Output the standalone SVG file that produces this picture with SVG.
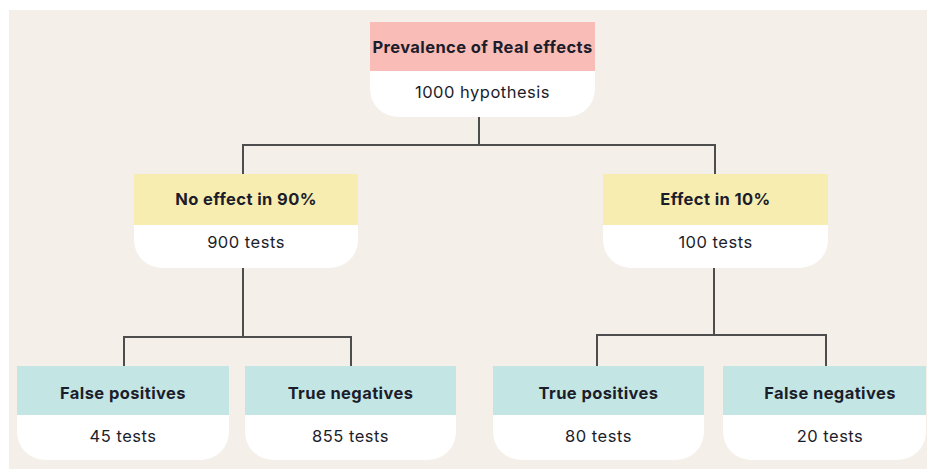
<svg xmlns="http://www.w3.org/2000/svg" width="927" height="469" viewBox="0 0 927 469">
<style>
.t{font-family:Inter,"Liberation Sans",sans-serif;font-size:16.5px;font-weight:700;letter-spacing:0.4px;fill:#1c1d2b;text-anchor:middle;dominant-baseline:central}
.s{font-family:Inter,"Liberation Sans",sans-serif;font-size:16.5px;font-weight:400;letter-spacing:0.5px;fill:#1c1d2b;text-anchor:middle;dominant-baseline:central}
.w{fill:#ffffff}
.c{fill:none;stroke:#4d4d4d;stroke-width:2}
</style>
<rect x="0" y="0" width="927" height="469" fill="#ffffff"/>
<rect x="9" y="10" width="918" height="459" fill="#f4efe9"/>
<g id="connectors">
<path class="c" d="M479 117 V145 M243 145 H715 M243 144 V174 M715 144 V174"/>
<path class="c" d="M243 268 V337 M124 337 H351 M124 336 V366 M351 336 V366"/>
<path class="c" d="M714 268 V335 M597 335 H826 M597 334 V366 M826 334 V366"/>
</g>
<g id="root">
<path class="w" d="M370 71 H595 V89 A28 28 0 0 1 567 117 H398 A28 28 0 0 1 370 89 Z"/>
<rect x="370" y="22" width="225" height="49" fill="#f9bcb6"/>
<text class="t" x="482.5" y="47">Prevalence of Real effects</text>
<text class="s" x="482.5" y="92">1000 hypothesis</text>
</g>
<g id="no-effect">
<path class="w" d="M134 225 H358 V240 A28 28 0 0 1 330 268 H162 A28 28 0 0 1 134 240 Z"/>
<rect x="134" y="174" width="224" height="51" fill="#f8edb0"/>
<text class="t" x="246" y="199">No effect in 90%</text>
<text class="s" x="246" y="242">900 tests</text>
</g>
<g id="effect">
<path class="w" d="M603 225 H828 V240 A28 28 0 0 1 800 268 H631 A28 28 0 0 1 603 240 Z"/>
<rect x="603" y="174" width="225" height="51" fill="#f8edb0"/>
<text class="t" x="715.5" y="199">Effect in 10%</text>
<text class="s" x="715.5" y="242">100 tests</text>
</g>
<g id="false-positives">
<path class="w" d="M17 415 H229 V432 A28 28 0 0 1 201 460 H45 A28 28 0 0 1 17 432 Z"/>
<rect x="17" y="366" width="212" height="49" fill="#c3e6e4"/>
<text class="t" x="123" y="393">False positives</text>
<text class="s" x="123" y="436">45 tests</text>
</g>
<g id="true-negatives">
<path class="w" d="M245 415 H456 V432 A28 28 0 0 1 428 460 H273 A28 28 0 0 1 245 432 Z"/>
<rect x="245" y="366" width="211" height="49" fill="#c3e6e4"/>
<text class="t" x="350.5" y="393">True negatives</text>
<text class="s" x="350.5" y="436">855 tests</text>
</g>
<g id="true-positives">
<path class="w" d="M493 415 H704 V432 A28 28 0 0 1 676 460 H521 A28 28 0 0 1 493 432 Z"/>
<rect x="493" y="366" width="211" height="49" fill="#c3e6e4"/>
<text class="t" x="598.5" y="393">True positives</text>
<text class="s" x="598.5" y="436">80 tests</text>
</g>
<g id="false-negatives">
<path class="w" d="M723 415 H926 V432 A28 28 0 0 1 898 460 H751 A28 28 0 0 1 723 432 Z"/>
<rect x="723" y="366" width="203" height="49" fill="#c3e6e4"/>
<text class="t" x="830" y="393">False negatives</text>
<text class="s" x="830" y="436">20 tests</text>
</g>
</svg>
